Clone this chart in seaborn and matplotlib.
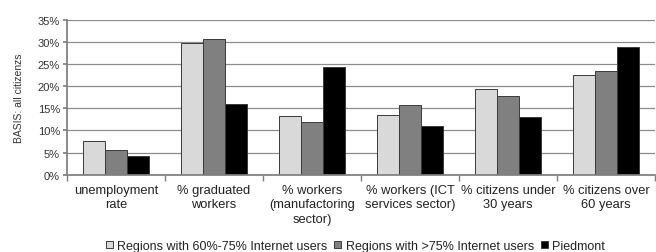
import matplotlib
matplotlib.use("Agg")
import matplotlib.pyplot as plt
import seaborn as sns
import pandas as pd
import numpy as np
from matplotlib.ticker import PercentFormatter, FixedLocator

categories = ["unemployment\nrate", "% graduated\nworkers", "% workers\n(manufactoring\nsector)",
              "% workers (ICT\nservices sector)", "% citizens under\n30 years", "% citizens over\n60 years"]
series = ["Regions with 60%-75% Internet users", "Regions with >75% Internet users", "Piedmont"]
low_users = [7.6, 29.9, 13.2, 13.4, 19.4, 22.6]
high_users = [5.6, 30.7, 11.9, 15.8, 17.9, 23.5]
piedmont = [4.2, 16.0, 24.4, 11.1, 13.1, 28.9]
colors = ["#d9d9d9", "#808080", "#000000"]

rows = []
for s, vals in zip(series, [low_users, high_users, piedmont]):
    for c, v in zip(categories, vals):
        rows.append({"category": c, "series": s, "value": v})
df = pd.DataFrame(rows)

sns.set_theme(style="white")
plt.rcParams['font.family'] = ['Liberation Sans', 'DejaVu Sans']

fig = plt.figure(figsize=(6.56, 2.53), dpi=100)
ax = fig.add_axes([0.102, 0.306, 0.897, 0.61])

sns.barplot(data=df, x="category", y="value", hue="series", palette=colors,
            order=categories, hue_order=series, width=0.67, ax=ax,
            edgecolor="#3a3a3a", linewidth=0.7, saturation=1, legend=True)

ax.set_ylim(0, 35)
ax.set_xlim(-0.5, len(categories) - 0.5)
ax.set_yticks(np.arange(0, 36, 5))
ax.yaxis.set_major_formatter(PercentFormatter(decimals=0))
ax.grid(axis="y", color="#8c8c8c", linewidth=0.9)
ax.set_axisbelow(True)
for s in ["top", "right"]:
    ax.spines[s].set_visible(False)
ax.spines["left"].set_color("#7f7f7f")
ax.spines["bottom"].set_color("#7f7f7f")
ax.tick_params(axis="y", which="major", left=True, length=3, color="#7f7f7f", labelsize=8, pad=2, labelcolor="#333333")
ax.tick_params(axis="x", which="major", length=0, labelsize=9.3, pad=6.5, labelcolor="#222222")
ax.set_xticks(range(len(categories)))
ax.set_xticklabels(categories, linespacing=1.3)
ax.xaxis.set_minor_locator(FixedLocator(np.arange(-0.5, len(categories), 1.0)))
ax.tick_params(axis="x", which="minor", bottom=True, length=4, color="#7f7f7f")
ax.set_xlabel("")
ax.set_ylabel("BASIS: all citizenzs", fontsize=7.5, color="#333333", labelpad=10)

handles, labels = ax.get_legend_handles_labels()
ax.legend_.remove()
fig.legend(handles, labels, loc="lower center", bbox_to_anchor=(0.542, -0.045), ncol=3,
           frameon=False, fontsize=9, handlelength=0.55, handleheight=0.55,
           handletextpad=0.35, columnspacing=0.55, labelcolor="#222222")

fig.savefig("out.png", dpi=100)
